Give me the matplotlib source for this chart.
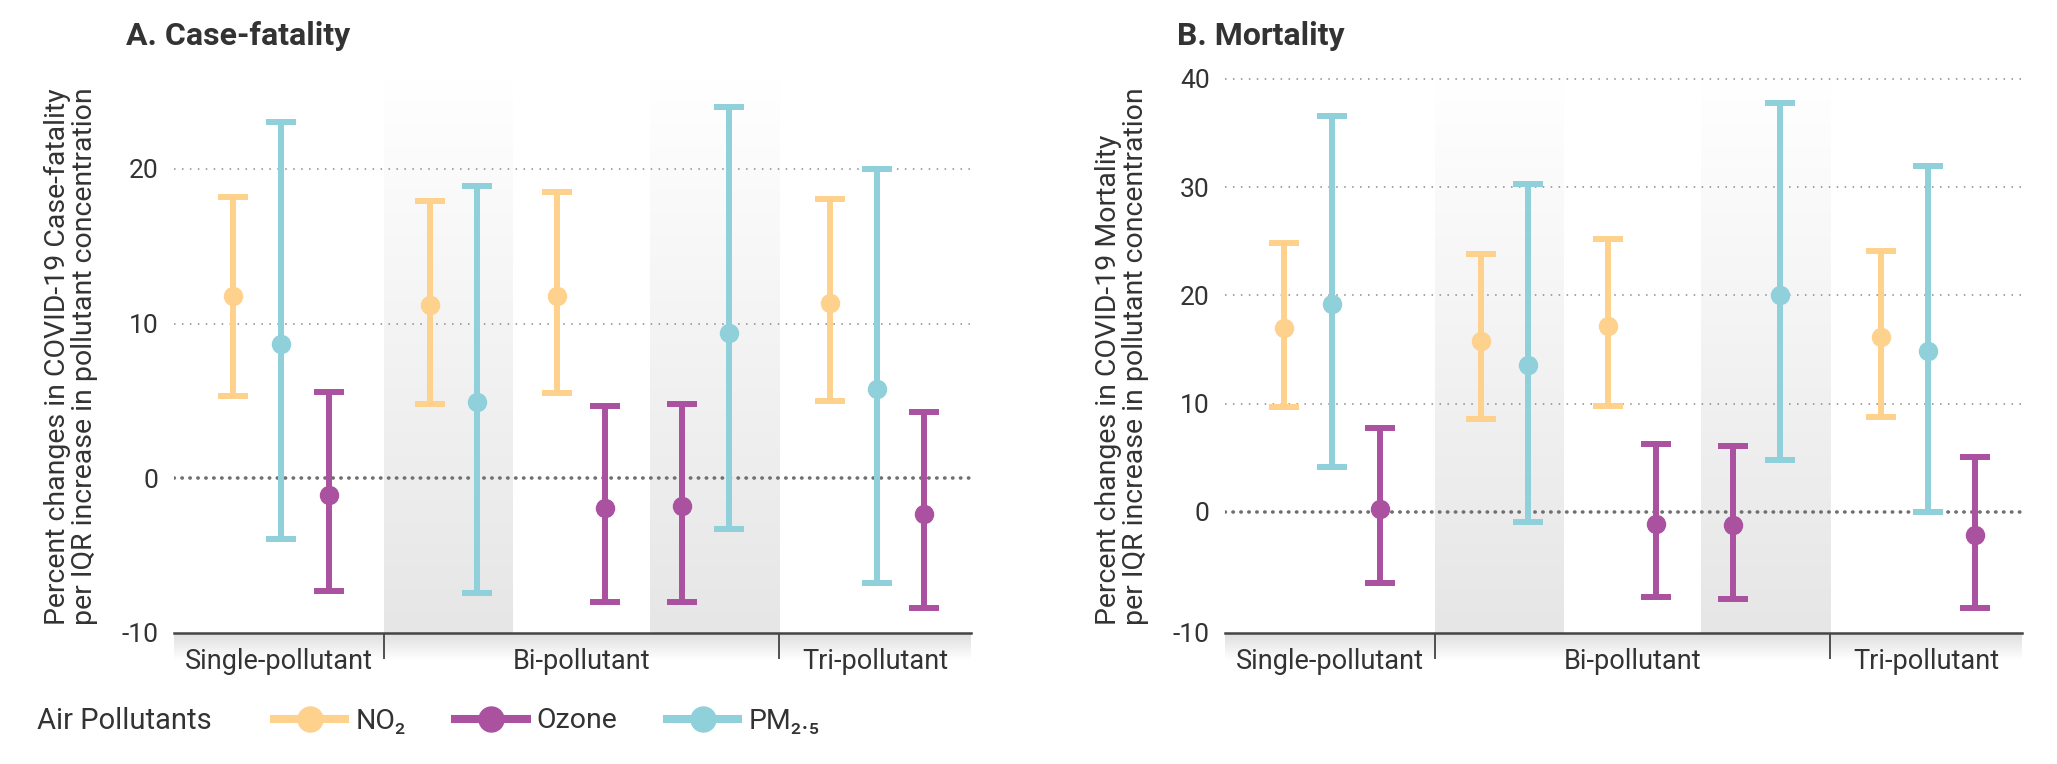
import numpy as np
import matplotlib
matplotlib.use("Agg")
import matplotlib.pyplot as plt
from matplotlib.colors import LinearSegmentedColormap
from matplotlib.lines import Line2D

plt.rcParams["font.family"] = ["Roboto", "DejaVu Sans"]

# ---- data -----------------------------------------------------------------
# models: Single, Bi(NO2+PM2.5), Bi(NO2+O3), Bi(O3+PM2.5), Tri
# A. Case-fatality
cf_no2 = [11.8, 11.2, 11.8, 11.3]
cf_no2_lo = [5.3, 4.8, 5.5, 5.0]
cf_no2_hi = [18.2, 17.9, 18.5, 18.05]
cf_o3 = [-1.1, -1.9, -1.8, -2.3]
cf_o3_lo = [-7.3, -8.0, -8.0, -8.4]
cf_o3_hi = [5.6, 4.7, 4.8, 4.25]
cf_pm = [8.7, 4.9, 9.4, 5.75]
cf_pm_lo = [-3.95, -7.4, -3.3, -6.8]
cf_pm_hi = [23.05, 18.9, 24.0, 20.0]

# B. Mortality
mo_no2 = [17.0, 15.8, 17.2, 16.2]
mo_no2_lo = [9.7, 8.6, 9.8, 8.8]
mo_no2_hi = [24.8, 23.8, 25.2, 24.1]
mo_o3 = [0.3, -1.1, -1.2, -2.1]
mo_o3_lo = [-6.6, -7.9, -8.1, -8.9]
mo_o3_hi = [7.7, 6.3, 6.1, 5.1]
mo_pm = [19.2, 13.6, 20.0, 14.9]
mo_pm_lo = [4.1, -0.9, 4.75, 0.0]
mo_pm_hi = [36.6, 30.3, 37.8, 32.0]

groups = ["Single-pollutant", "Bi-pollutant", "Tri-pollutant"]
pollutants = ["NO\u2082", "Ozone", "PM\u2082.\u2085"]

# ---- layout ---------------------------------------------------------------
# slot positions of each pollutant across the models it appears in
no2_x = [1.23, 5.36, 8.01, 13.72]
o3_x = [3.24, 9.02, 10.63, 15.69]
pm_x = [2.24, 6.34, 11.61, 14.71]
x_max = 16.67
separators = [4.39, 12.66]
bands = [(4.39, 7.07), (9.96, 12.66)]
group_centers = [2.2, 8.52, 14.66]

C_NO2, C_O3, C_PM = "#FED18C", "#AA519F", "#8FD0DB"
TXT = "#333333"

W, H = 2057, 764
fig = plt.figure(figsize=(W / 100, H / 100), dpi=100)

band_cmap = LinearSegmentedColormap.from_list("band", ["#ffffff", "#e6e6e6"])
under_cmap = LinearSegmentedColormap.from_list("under", ["#ffffff", "#dedede"])


def panel(left_px, title, ylabel, ylim, yticks, yticklabels, grid, series):
    ax = fig.add_axes([left_px / W, 1 - 633 / H, 797 / W, 554 / H])
    ax.set_zorder(2)
    ax.patch.set_alpha(0)

    grad = np.linspace(1, 0, 256).reshape(-1, 1)
    for x0, x1 in bands:
        ax.imshow(grad, cmap=band_cmap, origin="lower", aspect="auto",
                  extent=(x0, x1, ylim[0], ylim[1]), zorder=0)

    for g in grid:
        ax.axhline(g, color="#8a8a8a", lw=1.1, ls=(0, (1, 4.2)), zorder=1,
                   clip_on=False)
    ax.axhline(0, color="#707070", lw=2.6, ls=(0, (0.1, 2.1)),
               dash_capstyle="round", zorder=1)

    for xs, ys, lo, hi, c in series:
        ys = np.array(ys)
        err = [ys - np.array(lo), np.array(hi) - ys]
        ax.errorbar(xs, ys, yerr=err, fmt="o", color=c, ms=13, lw=4.3,
                    capsize=10.8, capthick=4.3, zorder=3)

    ax.set_xlim(0, x_max)
    ax.set_ylim(*ylim)
    ax.set_yticks(yticks)
    ax.set_yticklabels(yticklabels)
    ax.set_xticks(group_centers)
    ax.set_xticklabels(groups)
    ax.set_xticks(separators, minor=True)
    ax.tick_params(axis="x", which="major", length=0, pad=11,
                   labelsize=19.5, labelcolor=TXT)
    ax.tick_params(axis="x", which="minor", length=19, width=1.3,
                   color="#444444", direction="out")
    ax.tick_params(axis="y", length=0, pad=11, labelsize=19, labelcolor=TXT)
    for s in ("top", "left", "right"):
        ax.spines[s].set_visible(False)
    ax.spines["bottom"].set_color("#444444")
    ax.spines["bottom"].set_linewidth(1.8)

    ax.set_ylabel(ylabel, fontsize=20.5, color=TXT,
                  multialignment="left", linespacing=1.0)
    ax.yaxis.set_label_coords(-0.095, 0.5)

    ax.text(-48 / 797, 1 + 43 / 554, title, transform=ax.transAxes,
            fontsize=23, fontweight="bold", color=TXT, va="center", ha="left")

    # soft grey strip under the axis
    ua = fig.add_axes([left_px / W, 1 - 660 / H, 797 / W, 27 / H])
    ua.set_zorder(0)
    ua.imshow(np.linspace(0, 1, 64).reshape(-1, 1), cmap=under_cmap,
              origin="lower", aspect="auto")
    ua.axis("off")
    return ax


panel(174, "A. Case-fatality",
      "Percent changes in COVID-19 Case-fatality\nper IQR increase in pollutant concentration",
      (-10, 25.8), [-10, 0, 10, 20], ["-10", "0", "10", "20"], [10, 20],
      [(no2_x, cf_no2, cf_no2_lo, cf_no2_hi, C_NO2),
       (pm_x, cf_pm, cf_pm_lo, cf_pm_hi, C_PM),
       (o3_x, cf_o3, cf_o3_lo, cf_o3_hi, C_O3)])

panel(1225, "B. Mortality",
      "Percent changes in COVID-19 Mortality\nper IQR increase in pollutant concentration",
      (-11.2, 40), [-11.2, 0, 10, 20, 30, 40], ["-10", "0", "10", "20", "30", "40"],
      [10, 20, 30, 40],
      [(no2_x, mo_no2, mo_no2_lo, mo_no2_hi, C_NO2),
       (pm_x, mo_pm, mo_pm_lo, mo_pm_hi, C_PM),
       (o3_x, mo_o3, mo_o3_lo, mo_o3_hi, C_O3)])

# legend
fig.text(37 / W, 1 - 721 / H, "Air Pollutants", fontsize=21, color=TXT,
         va="center", ha="left")
handles = [Line2D([0], [0], color=c, lw=5.8, marker="o", ms=18)
           for c in (C_NO2, C_O3, C_PM)]
fig.legend(handles, pollutants, loc="center left",
           bbox_to_anchor=(274 / W, 1 - 721 / H), ncol=3, frameon=False,
           fontsize=20.5, handlelength=2.5, handletextpad=0.35,
           columnspacing=1.75, borderpad=0, borderaxespad=0,
           labelcolor=TXT)

fig.savefig("out.png", dpi=100)
